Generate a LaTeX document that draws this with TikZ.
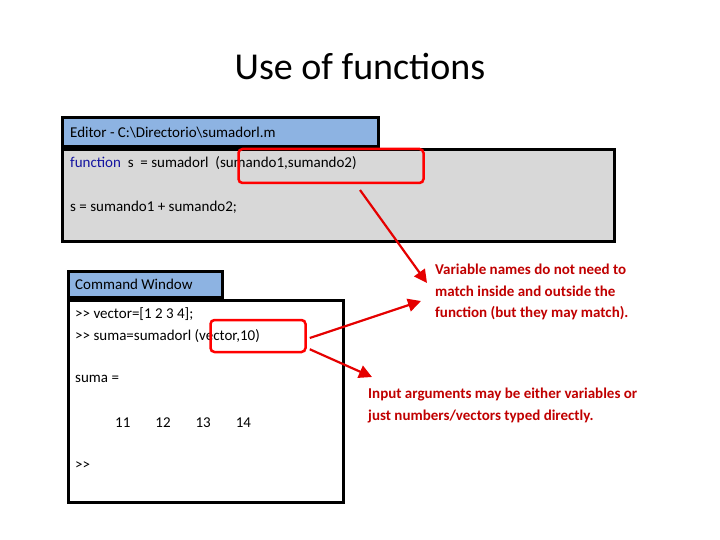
\documentclass[tikz,border=0pt]{standalone}
\usepackage{fontspec}
\setmainfont{Carlito}
\usetikzlibrary{arrows.meta, positioning, calc}
\definecolor{hdrblue}{RGB}{141,179,226}
\definecolor{bodygray}{RGB}{216,216,216}
\definecolor{kwblue}{RGB}{20,20,160}
\definecolor{notered}{RGB}{192,0,0}
\begin{document}
\begin{tikzpicture}[x=1pt, y=-1pt,
        header/.style = {draw=black, line width=3pt, fill=hdrblue},
        panel/.style = {draw=black, line width=3pt},
        code/.style = {anchor=west, inner sep=0pt, font=\fontsize{15}{18}\selectfont},
        hilite/.style = {draw=red, line width=2.5pt, rounded corners=4pt},
        note/.style = {anchor=north west, align=left, text=notered, inner sep=0pt, font=\fontsize{15}{21.5}\selectfont\bfseries},
        line/.style = {-{Triangle[length=13pt, width=13pt]}, draw=red!90!black, line width=2.2pt},
    ]
        \useasboundingbox (0,0) rectangle (720,540);
        \node (title) at (360,67) {\fontsize{38}{42}\selectfont Use of functions};
        % editor window
        \draw[header] (62,118) rectangle (378,147);
        \node[code] (edhead) at (70,133) {Editor - C:\textbackslash Directorio\textbackslash sumadorl.m};
        \draw[panel, fill=bodygray] (62,150) rectangle (614,241);
        \node[code] (edl1) at (70,163) {\textcolor{kwblue}{function}\ \ s\ \ = sumadorl\ \ (sumando1,sumando2)};
        \node[code] (edl2) at (70,207) {s = sumando1 + sumando2;};
        \node[hilite, minimum width=185pt, minimum height=34pt] (args1) at (331,166) {};
        % command window
        \draw[header] (68,271) rectangle (222,297);
        \node[code] (cmdhead) at (75,284) {Command Window};
        \draw[panel, fill=white] (68,300) rectangle (343,502);
        \node[code] (cl1) at (75,314) {>{}> vector=[1 2 3 4];};
        \node[code] (cl2) at (75,336) {>{}> suma=sumadorl (vector,10)};
        \node[code] (cl3) at (75,379) {suma =};
        \node[code] (cl4) at (115,423) {11\hspace{25pt}12\hspace{25pt}13\hspace{25pt}14};
        \node[code] (cl5) at (75,466) {>{}>};
        \node[hilite, minimum width=95pt, minimum height=32pt] (args2) at (258,336) {};
        % notes
        \node[note] (note1) at (435,264) {Variable names do not need to\\match inside and outside the\\function (but they may match).};
        \node[note] (note2) at (368,388) {Input arguments may be either variables or\\just numbers/vectors typed directly.};
        \coordinate (tip1) at (427,283);
        \coordinate (tip2) at (421,301);
        \coordinate (tip3) at (372,377);
        \draw[line] (360,190) -- (tip1);
        \draw[line] (args2.east) ++(3,2) -- (tip2);
        \draw[line] (args2.south east) ++(3,-4) -- (tip3);
    \end{tikzpicture}
\end{document}
